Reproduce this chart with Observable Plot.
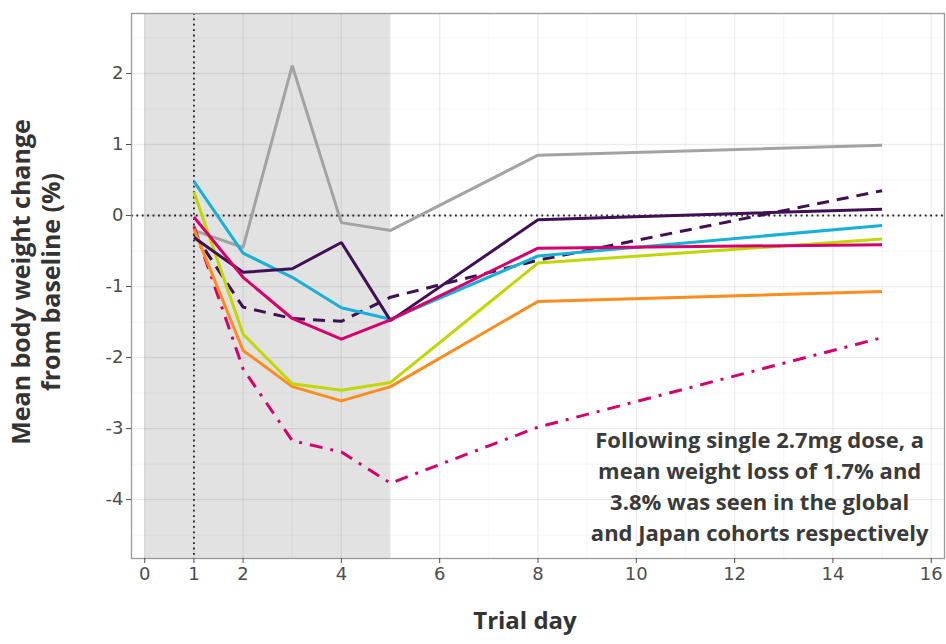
<!DOCTYPE html>
<html>
<head>
<meta charset="utf-8">
<script src="https://cdn.jsdelivr.net/npm/d3@7"></script>
<script src="https://cdn.jsdelivr.net/npm/@observablehq/plot@0.6"></script>
<style>
  html, body { margin: 0; padding: 0; background: #fff; }
</style>
</head>
<body>
<div id="chart"></div>
<script>
// ---- data ----
const days = [1, 2, 3, 4, 5, 8, 15];
const seriesGray        = [-0.21, -0.45, 2.11, -0.10, -0.21, 0.85, 0.99];
const seriesPurple      = [-0.31, -0.80, -0.75, -0.38, -1.48, -0.06, 0.09];
const seriesPurpleDash  = [-0.25, -1.29, -1.45, -1.49, -1.15, -0.63, 0.35];
const seriesCyan        = [0.48, -0.53, -0.87, -1.30, -1.46, -0.57, -0.14];
const seriesLime        = [0.33, -1.67, -2.37, -2.46, -2.35, -0.67, -0.33];
const seriesOrange      = [-0.19, -1.90, -2.41, -2.61, -2.41, -1.21, -1.07];
const seriesMagenta     = [-0.02, -0.87, -1.45, -1.74, -1.47, -0.46, -0.41];
const seriesMagentaDash = [-0.15, -2.16, -3.17, -3.33, -3.77, -2.98, -1.72];

const xTicks = [0, 1, 2, 4, 6, 8, 10, 12, 14, 16];
const yTicks = [-4, -3, -2, -1, 0, 1, 2];
const shadedPeriod = [{start: 0, end: 5}];
const annotationLines = [
  "Following single 2.7mg dose, a",
  "mean weight loss of 1.7% and",
  "3.8% was seen in the global",
  "and Japan cohorts respectively"
];
const yTitle = ["Mean body weight change", "from baseline (%)"];
const xTitle = "Trial day";

// ---- build rows ----
const rows = (vals) => days.map((d, i) => ({day: d, value: vals[i]}));

const lineSpecs = [
  {vals: seriesGray,        stroke: "#a3a3a3", dash: null},
  {vals: seriesPurpleDash,  stroke: "#3f1053", dash: "12 8"},
  {vals: seriesMagentaDash, stroke: "#d6006d", dash: "13 8 3 8"},
  {vals: seriesOrange,      stroke: "#ff8c1a", dash: null},
  {vals: seriesLime,        stroke: "#c2d600", dash: null},
  {vals: seriesCyan,        stroke: "#17b1d8", dash: null},
  {vals: seriesPurple,      stroke: "#3f1053", dash: null},
  {vals: seriesMagenta,     stroke: "#d6006d", dash: null}
];

const fontTitle = "'Open Sans', 'DejaVu Sans', sans-serif";

const chart = Plot.plot({
  width: 946,
  height: 644,
  marginLeft: 131,
  marginRight: 2,
  marginTop: 13,
  marginBottom: 86,
  style: {fontFamily: "'DejaVu Sans', sans-serif", fontSize: "18px", color: "#4d4d4d", background: "#fff"},
  x: {domain: [-0.27, 16.27]},
  y: {domain: [-4.83, 2.845]},
  marks: [
    Plot.rect(shadedPeriod, {x1: "start", x2: "end", fill: "#e2e2e2"}),
    // minor grid
    Plot.gridX({ticks: d3.range(1, 17, 2), stroke: "#000", strokeOpacity: 0.035, strokeWidth: 1.2}),
    Plot.gridY({ticks: d3.range(-4.5, 3, 1), stroke: "#000", strokeOpacity: 0.035, strokeWidth: 1.2}),
    // major grid
    Plot.gridX({ticks: d3.range(0, 17, 2), stroke: "#000", strokeOpacity: 0.075, strokeWidth: 1.3}),
    Plot.gridY({ticks: yTicks, stroke: "#000", strokeOpacity: 0.075, strokeWidth: 1.3}),
    Plot.ruleX([1], {stroke: "#222", strokeWidth: 1.8, strokeDasharray: "1.8 3.6"}),
    Plot.ruleY([0], {stroke: "#222", strokeWidth: 1.8, strokeDasharray: "1.8 3.6"}),
    ...lineSpecs.map(s => Plot.line(rows(s.vals), {
      x: "day", y: "value", stroke: s.stroke, strokeWidth: 3,
      strokeDasharray: s.dash, strokeLinejoin: "miter", strokeLinecap: "butt"
    })),
    Plot.text([annotationLines.join("\n")], {
      x: 12.51, y: -3.79, text: d => d, textAnchor: "middle", lineAnchor: "middle",
      lineHeight: 1.41, fontSize: 22, fontWeight: 700, fill: "#3a3a3a", fontFamily: fontTitle
    }),
    Plot.frame({stroke: "#999", strokeWidth: 1.3}),
    Plot.axisX({ticks: xTicks, tickSize: 5, tickPadding: 4, fontSize: 18, label: null, tickFormat: d => String(d)}),
    Plot.axisY({ticks: yTicks, tickSize: 5, tickPadding: 3, fontSize: 18, label: null, tickFormat: d => String(d)}),
    Plot.text([yTitle.join("\n")], {
      frameAnchor: "left", rotate: -90, dx: -96, dy: -4, text: d => d,
      textAnchor: "middle", lineAnchor: "middle",
      lineHeight: 1.2, fontSize: 25, fontWeight: 700, fill: "#333", fontFamily: fontTitle
    }),
    Plot.text([xTitle], {
      frameAnchor: "bottom", dy: 70, dx: -13, text: d => d,
      fontSize: 24, fontWeight: 700, fill: "#333", fontFamily: fontTitle
    })
  ]
});

document.getElementById("chart").appendChild(chart);
</script>
</body>
</html>
